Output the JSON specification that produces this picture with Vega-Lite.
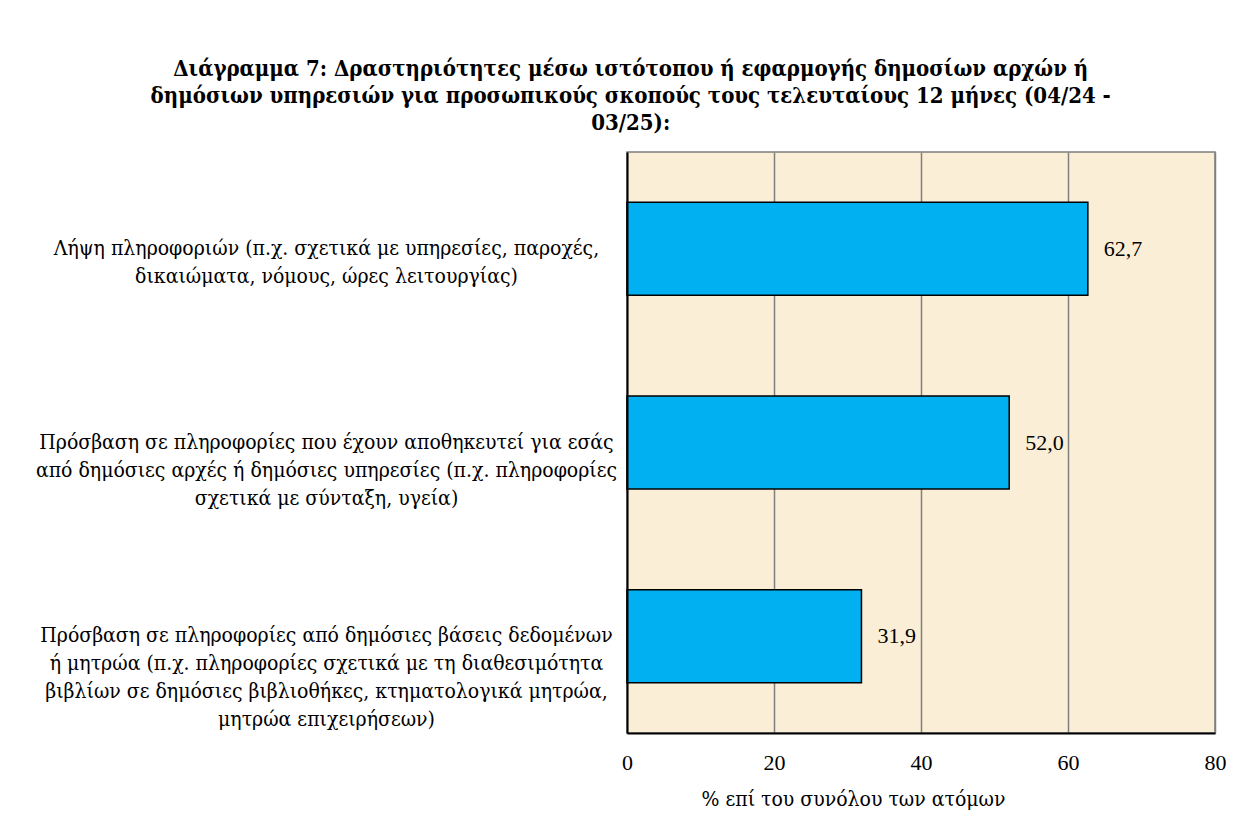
{
  "$schema": "https://vega.github.io/schema/vega-lite/v6.json",
  "autosize": {"type": "none"},
  "width": 588,
  "height": 581,
  "padding": {"left": 627, "top": 152, "right": 20, "bottom": 100},
  "background": "white",
  "title": {
    "text": ["Διάγραμμα 7: Δραστηριότητες μέσω ιστότοπου ή εφαρμογής δημοσίων αρχών ή", "δημόσιων υπηρεσιών για προσωπικούς σκοπούς τους τελευταίους 12 μήνες (04/24 -", "03/25):"],
    "font": "DejaVu Serif Condensed, DejaVu Serif",
    "fontSize": 22,
    "fontWeight": "bold",
    "color": "black",
    "lineHeight": 27,
    "anchor": "middle",
    "frame": "bounds",
    "offset": 17
  },
  "data": {
    "values": [
      {"cat": "Λήψη πληροφοριών (π.χ. σχετικά με υπηρεσίες, παροχές,|δικαιώματα, νόμους, ώρες λειτουργίας)", "value": 62.7},
      {"cat": "Πρόσβαση σε πληροφορίες που έχουν αποθηκευτεί για εσάς|από δημόσιες αρχές ή δημόσιες υπηρεσίες (π.χ. πληροφορίες|σχετικά με σύνταξη, υγεία)", "value": 52.0},
      {"cat": "Πρόσβαση σε πληροφορίες από δημόσιες βάσεις δεδομένων|ή μητρώα (π.χ. πληροφορίες σχετικά με τη διαθεσιμότητα|βιβλίων σε δημόσιες βιβλιοθήκες, κτηματολογικά μητρώα,|μητρώα επιχειρήσεων)", "value": 31.9}
    ]
  },
  "encoding": {
    "y": {
      "field": "cat",
      "type": "nominal",
      "sort": null,
      "scale": {"paddingInner": 0.52, "paddingOuter": 0.26},
      "axis": {
        "title": null,
        "labelExpr": "split(datum.label, '|')",
        "labelAlign": "center",
        "labelBaseline": "middle",
        "labelPadding": 301,
        "ticks": false,
        "tickSize": 0,
        "labelLimit": 1000,
        "labelFont": "DejaVu Serif Condensed, DejaVu Serif",
        "labelFontSize": 21,
        "labelLineHeight": 28,
        "labelColor": "black",
        "domainColor": "black",
        "domainWidth": 2,
        "zindex": 1
      }
    },
    "x": {
      "field": "value",
      "type": "quantitative",
      "scale": {"domain": [0, 80]},
      "axis": {
        "values": [0, 20, 40, 60, 80],
        "title": "% επί του συνόλου των ατόμων",
        "titleFont": "DejaVu Serif Condensed, DejaVu Serif",
        "titleFontSize": 21,
        "titleFontWeight": "normal",
        "titleColor": "black",
        "titleX": 226,
        "titleAlign": "center",
        "titlePadding": 15,
        "labelFont": "Liberation Serif",
        "labelFontSize": 22,
        "labelColor": "black",
        "labelPadding": 19,
        "ticks": false,
        "tickSize": 0,
        "grid": true,
        "gridColor": "#7f7f7f",
        "gridWidth": 1.5,
        "domainColor": "black",
        "domainWidth": 2,
        "labelFlush": false
      }
    }
  },
  "layer": [
    {
      "mark": {"type": "bar", "color": "#00b0f0", "stroke": "black", "strokeWidth": 1.5}
    },
    {
      "mark": {"type": "text", "align": "left", "baseline": "middle", "dx": 16, "font": "Liberation Serif", "fontSize": 22, "color": "black"},
      "encoding": {
        "text": {"field": "value", "type": "quantitative", "format": ".1f"}
      }
    }
  ],
  "config": {
    "locale": {"number": {"decimal": ",", "thousands": ".", "grouping": [3], "currency": ["", " €"]}},
    "view": {"fill": "#faeed6", "stroke": "#7f7f7f", "strokeWidth": 1.5}
  }
}
